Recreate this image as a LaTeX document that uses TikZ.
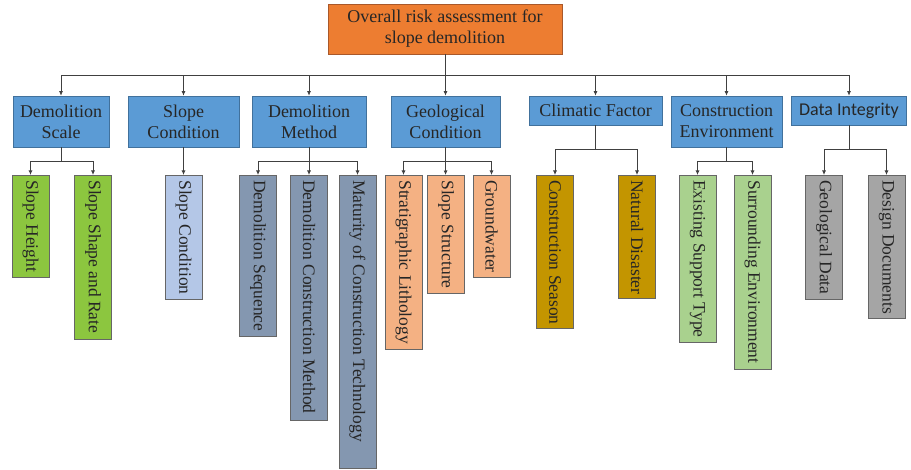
\documentclass[tikz,border=0pt]{standalone}
\usepackage{fontspec}
\setmainfont{Liberation Serif}
\newfontfamily\calfont{Carlito}
\usetikzlibrary{arrows.meta}
\definecolor{rootc}{HTML}{ED7D31}
\definecolor{rootb}{HTML}{A9582A}
\definecolor{catc}{HTML}{5B9BD5}
\definecolor{catb}{HTML}{41719C}
\definecolor{greenc}{HTML}{8CC63F}
\definecolor{lbluec}{HTML}{B4C7E7}
\definecolor{slatec}{HTML}{8497B0}
\definecolor{peachc}{HTML}{F4B183}
\definecolor{goldc}{HTML}{C39500}
\definecolor{lgreenc}{HTML}{A9D18E}
\definecolor{grayc}{HTML}{A5A5A5}
\definecolor{txtc}{HTML}{262626}
\definecolor{linec}{HTML}{404040}
\newcommand\leafnode[5]{%
  \pgfmathsetmacro\leaflen{#3-175-10}%
  \node[leafbox, fill=#4] (#1) at (#2,175) {\makebox[\leaflen pt][l]{#5}};}
\begin{document}
\begin{tikzpicture}[x=1pt,y=-1pt,
  rootbox/.style={draw=rootb, fill=rootc, line width=0.6pt, minimum width=234pt, minimum height=50pt,
    inner sep=0pt, align=center, text=txtc, font=\fontsize{18}{21}\selectfont},
  catbox/.style={draw=catb, fill=catc, line width=0.6pt, inner sep=0pt, align=center, text=txtc,
    font=\fontsize{18}{21}\selectfont},
  leafbox/.style={draw=linec!80, line width=0.6pt, rotate=-90, anchor=west, minimum height=37pt,
    inner xsep=5pt, inner ysep=0pt, text=txtc, font=\fontsize{17.5}{21}\selectfont},
  conn/.style={draw=linec, line width=0.8pt},
  arr/.style={conn, -{Latex[length=4.5pt,width=4pt]}}]
\useasboundingbox (0,0) rectangle (911,470);

\node[rootbox] (root) at (445,29) {Overall risk assessment for\\slope demolition};

\node[catbox, minimum width=96pt, minimum height=51pt] (ds) at (61,121.5) {Demolition\\Scale};
\node[catbox, minimum width=111pt, minimum height=51pt] (sc) at (183.5,121.5) {Slope\\Condition};
\node[catbox, minimum width=114pt, minimum height=51pt] (dm) at (309,121.5) {Demolition\\Method};
\node[catbox, minimum width=109pt, minimum height=51pt] (gc) at (445.5,121.5) {Geological\\Condition};
\node[catbox, minimum width=133pt, minimum height=29pt] (cf) at (595.5,110.5) {Climatic Factor};
\node[catbox, minimum width=111pt, minimum height=51pt] (ce) at (726.5,121.5) {Construction\\Environment};
\node[catbox, minimum width=115pt, minimum height=29pt, font=\calfont\fontsize{18}{21}\selectfont] (di) at (849,110.5) {Data Integrity};

\leafnode{sh}{30.5}{277}{greenc}{Slope Height}
\leafnode{ssr}{93}{339}{greenc}{Slope Shape and Rate}
\leafnode{scl}{183.5}{299}{lbluec}{Slope Condition}
\leafnode{dsq}{258}{336}{slatec}{Demolition Sequence}
\leafnode{dcm}{309}{420}{slatec}{Demolition Construction Method}
\leafnode{mct}{357.5}{468}{slatec}{Maturity of Construction Technology}
\leafnode{sl}{403.5}{349}{peachc}{Stratigraphic Lithology}
\leafnode{ss}{446}{293}{peachc}{Slope Structure}
\leafnode{gw}{491.5}{277}{peachc}{Groundwater}
\leafnode{cs}{555}{328}{goldc}{Construction Season}
\leafnode{nd}{637}{298}{goldc}{Natural Disaster}
\leafnode{est}{697.5}{342}{lgreenc}{Existing Support Type}
\leafnode{se}{752.5}{369}{lgreenc}{Surrounding Environment}
\leafnode{gd}{824}{299}{grayc}{Geological Data}
\leafnode{dd}{886.5}{318}{grayc}{Design Documents}

% main bus
\path (root.south) ++(0,21) coordinate (bus);
\draw[conn] (root) -- (bus);
\foreach \c in {ds,sc,dm,gc,cf,ce,di} {\draw[arr] (bus) -| (\c);}

% sub buses
\path (ds.south) ++(0,14) coordinate (dsb);
\draw[conn] (ds) -- (dsb);
\draw[arr] (dsb) -| (sh);
\draw[arr] (dsb) -| (ssr);

\draw[arr] (sc) -- (scl);

\path (dm.south) ++(0,14) coordinate (dmb);
\draw[conn] (dm) -- (dmb);
\draw[arr] (dmb) -| (dsq);
\draw[arr] (dmb) -- (dcm);
\draw[arr] (dmb) -| (mct);

\path (gc.south) ++(0,14) coordinate (gcb);
\draw[conn] (gc) -- (gcb);
\draw[arr] (gcb) -| (sl);
\draw[arr] (gcb) -- (ss);
\draw[arr] (gcb) -| (gw);

\path (cf.south) ++(0,24) coordinate (cfb);
\draw[conn] (cf) -- (cfb);
\draw[arr] (cfb) -| (cs);
\draw[arr] (cfb) -| (nd);

\path (ce.south) ++(0,14) coordinate (ceb);
\draw[conn] (ce) -- (ceb);
\draw[arr] (ceb) -| (est);
\draw[arr] (ceb) -| (se);

\path (di.south) ++(0,24) coordinate (dib);
\draw[conn] (di) -- (dib);
\draw[arr] (dib) -| (gd);
\draw[arr] (dib) -| (dd);
\end{tikzpicture}
\end{document}
